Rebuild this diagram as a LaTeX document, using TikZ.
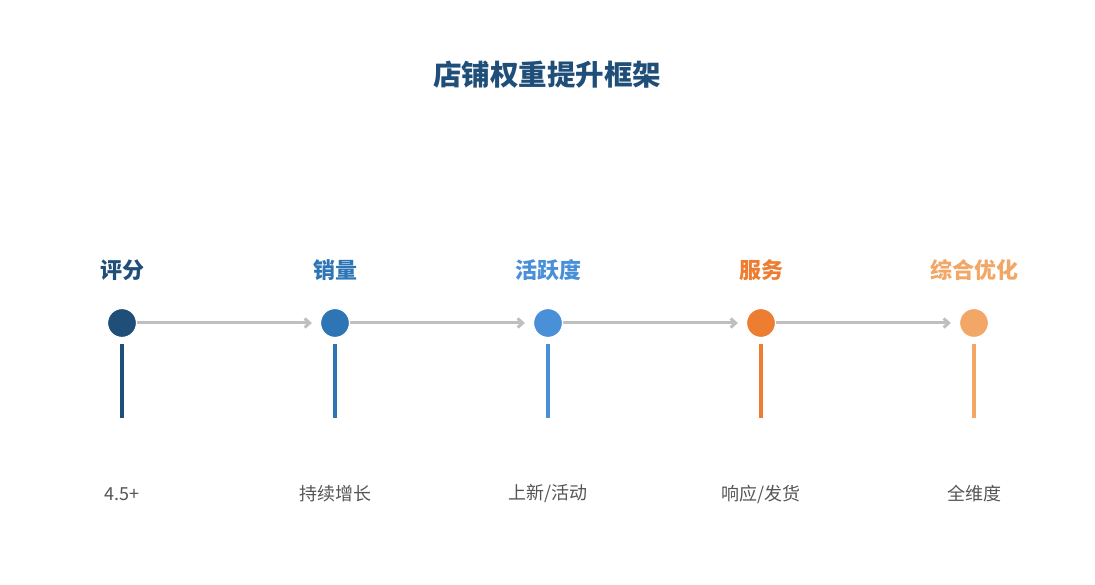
\documentclass[tikz,border=0pt]{standalone}
\usepackage{fontspec}
\setmainfont{Noto Sans CJK SC}
\usetikzlibrary{arrows.meta}
\definecolor{c1}{HTML}{1F4E79}
\definecolor{c2}{HTML}{2E75B6}
\definecolor{c3}{HTML}{4A90D9}
\definecolor{c4}{HTML}{ED7D31}
\definecolor{c5}{HTML}{F2A766}
\definecolor{txt}{HTML}{555555}
\begin{document}
\begin{tikzpicture}[x=1pt,y=-1pt,
  dot/.style={circle,minimum size=29pt,inner sep=0pt,draw=white,line width=1.2pt},
  head/.style={font=\bfseries\fontsize{22}{24}\selectfont},
  sub/.style={font=\fontsize{18}{20}\selectfont,text=txt},
  stem/.style={line width=3.5pt},
  link/.style={draw=black!25,line width=3pt,-{Straight Barb[length=5pt,width=9pt]}}]
\useasboundingbox (0,0) rectangle (1095,585);
\node[font=\bfseries\fontsize{28.5}{32}\selectfont,text=c1] (title) at (547,75) {店铺权重提升框架};
\foreach \i/\x/\h/\s in {1/122/评分/{4.5+},2/335/销量/{持续增长},3/548/活跃度/{上新/活动},4/761/服务/{响应/发货},5/974/综合优化/{全维度}}{
  \node[head,text=c\i] (h\i) at (\x,270) {\h};
  \coordinate (t\i) at (\x,344);
  \coordinate (b\i) at (\x,418);
  \draw[stem,c\i] (t\i) -- (b\i);
  \node[sub] (s\i) at (\x,494) {\s};
}
\foreach \i/\x in {1/122,2/335,3/548,4/761,5/974}{ \node[dot,fill=c\i] (n\i) at (\x,323) {}; }
\foreach \a/\b in {1/2,2/3,3/4,4/5}{ \draw[link] (n\a.center) -- ([xshift=-8pt]n\b.west); }
\foreach \i in {1,...,5}{ \node[dot,fill=c\i] at (n\i) {}; }
\end{tikzpicture}
\end{document}
